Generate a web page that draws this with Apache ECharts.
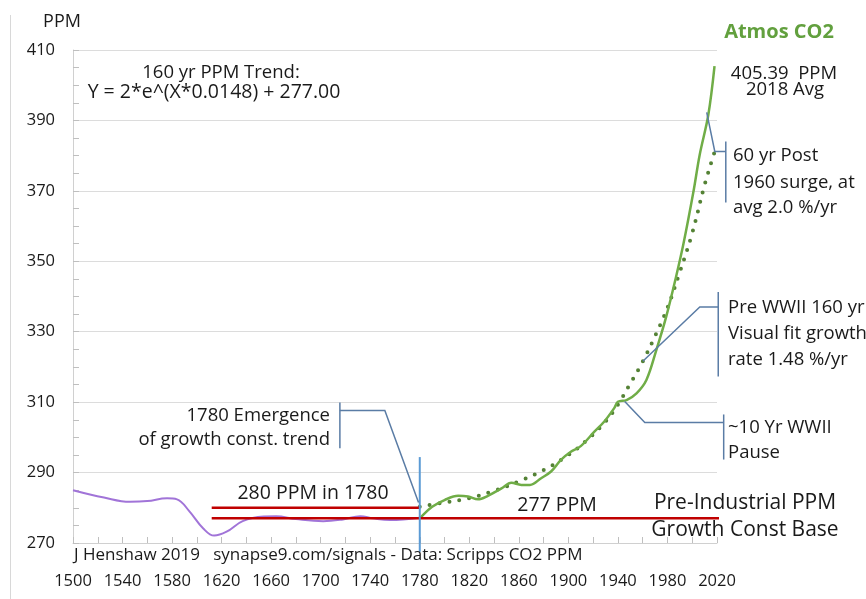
<!DOCTYPE html>
<html>
<head>
<meta charset="utf-8">
<script src="https://cdn.jsdelivr.net/npm/echarts@6/dist/echarts.min.js"></script>
<style>html,body{margin:0;padding:0;background:#fff}#c{width:866px;height:599px}</style>
</head>
<body>
<div id="c"></div>
<script>
// ---- Data (year, ppm) ----
const iceCoreYears = [1500,1525,1546,1560,1576,1584,1594,1605,1614,1624,1637,1654,1664,1680,1702,1718,1732,1742,1756,1780];
const iceCorePPM   = [285.0,282.9,281.7,281.9,282.7,282.4,279.0,274.2,272.1,273.2,276.2,277.5,277.6,276.8,276.2,276.7,277.6,277.0,276.5,277.2];

const atmosYears = [1780,1790,1800,1811,1819,1827,1835,1846,1854,1862,1869,1878,1886,1894,1902,1910,1921,1929,1937,1940,1947,1955,1963,1971,1979,1987,1993,2001,2006,2013,2018];
const atmosPPM   = [277.0,280.3,282.2,283.4,283.2,282.4,283.4,285.5,287.1,286.5,286.5,288.4,290.3,293.6,295.9,297.5,301.6,304.5,308.3,310.1,310.6,312.5,316.3,324.8,334.3,345.7,355.1,369.8,380.2,391.6,405.4];

const trendYears = [1780,1800,1820,1840,1860,1880,1900,1915,1930,1940,1950,1960,1970,1980,1990,2000,2010,2018];
const trendPPM   = [280.3,281.5,282.7,284.8,287.5,290.7,295.0,299.2,304.5,309.3,315.3,321.5,328.8,336.8,347.0,358.0,371.7,381.0];

// reference levels
const level1780 = 280;
const baseLevel = 277;

const xTicks = {min:1500, max:2020, step:40};
const yTicks = {min:270, max:410, step:20};

const zip = (xs, ys) => xs.map((x,i)=>[x, ys[i]]);

// annotation leader lines (data coordinates; null splits segments)
const callouts = {
  emergence: [[1715.5,309.9],[1715.5,296.9],null,[1715.5,307.6],[1751.8,307.6],[1779,281.5]],
  post1960:  [[2011.7,392.3],[2018.2,381.2],[2027.1,381.2],null,[2027.1,384.0],[2027.1,366.7]],
  preWWII:   [[1960.1,321.6],[2006.1,337.0],[2021,337.0],null,[2021,341.3],[2021,317.3]],
  wwii:      [[1945.5,310.2],[1961.7,304.2],[2025.4,304.2],null,[2025.4,306.5],[2025.4,293.7]]
};
const marker1780 = [[1780,294.4],[1780,267.5]];

const FONT = '"Open Sans", "Noto Sans", sans-serif';
const txt = (text, x, y, opts={}) => ({
  type:'text', silent:true, z:100,
  style:{text, x, y, fill:opts.fill||'#1a1a1a', font:`${opts.weight||'normal'} ${opts.size||18.5}px ${FONT}`,
    align:opts.align||'left', verticalAlign:'middle'}
});

const chart = echarts.init(document.getElementById('c'), null, {renderer:'canvas'});

const series = [
  {type:'line', name:'ice', data:zip(iceCoreYears, iceCorePPM), smooth:0.4, symbol:'none',
    lineStyle:{color:'#a174d8', width:2}, z:4},
  {type:'line', name:'trend', data:zip(trendYears, trendPPM), smooth:0.4, symbol:'none',
    lineStyle:{color:'#548235', width:4, type:[0,10], cap:'round'}, z:5},
  {type:'line', name:'atmos', data:zip(atmosYears, atmosPPM), smooth:0.35, symbol:'none',
    lineStyle:{color:'#70ad47', width:2.5}, z:6},
  {type:'line', data:[[1612,level1780],[1780,level1780]], symbol:'none', clip:false,
    lineStyle:{color:'#c00000', width:2.5}, z:7},
  {type:'line', data:[[1612,baseLevel],[2137,baseLevel]], symbol:'none', clip:false,
    lineStyle:{color:'#c00000', width:2.5}, z:7},
];

const texts = [
  txt('PPM', 62, 22, {align:'center', size:18}),
  txt('160 yr PPM Trend:', 221, 73, {align:'center'}),
  txt('Y = 2*e^(X*0.0148) + 277.00', 214, 92, {align:'center', size:19.5}),
  txt('Atmos CO2', 779, 32, {align:'center', size:20, weight:'bold', fill:'#62a03e'}),
  txt('405.39  PPM', 784, 74, {align:'center'}),
  txt('2018 Avg', 785, 90, {align:'center'}),
  txt('60 yr Post', 733, 156),
  txt('1960 surge, at', 733, 183),
  txt('avg 2.0 %/yr', 733, 208),
  txt('Pre WWII 160 yr', 728, 308),
  txt('Visual fit growth', 728, 334),
  txt('rate 1.48 %/yr', 728, 360),
  txt('~10 Yr WWII', 728, 428),
  txt('Pause', 728, 453),
  txt('1780 Emergence', 330, 416, {align:'right'}),
  txt('of growth const. trend', 330, 440, {align:'right'}),
  txt('280 PPM in 1780', 313, 493, {align:'center', size:19.5}),
  txt('277 PPM', 557, 505, {align:'center', size:19.5}),
  txt('Pre-Industrial PPM', 745, 503, {align:'center', size:21}),
  txt('Growth Const Base', 745, 530, {align:'center', size:21}),
  txt('J Henshaw 2019   synapse9.com/signals - Data: Scripps CO2 PPM', 74, 555, {size:17}),
];

chart.setOption({
  animation:false,
  backgroundColor:'#ffffff',
  grid:{left:73, right:149, top:50, bottom:56, containLabel:false},
  xAxis:{type:'value', min:xTicks.min, max:xTicks.max, interval:xTicks.step,
    axisLine:{show:true, lineStyle:{color:'#d0d0d0', width:1}},
    axisTick:{show:true, inside:true, length:6, lineStyle:{color:'#bfbfbf'}},
    minorTick:{show:true, splitNumber:2, length:6, lineStyle:{color:'#bfbfbf'}},
    splitLine:{show:false},
    axisLabel:{margin:30, color:'#1a1a1a', fontSize:16.5, fontFamily:FONT, formatter:v=>String(v)}},
  yAxis:{type:'value', min:yTicks.min, max:yTicks.max, interval:yTicks.step,
    axisLine:{show:true, lineStyle:{color:'#d0d0d0', width:1}},
    axisTick:{show:true, inside:true, length:6, lineStyle:{color:'#bfbfbf'}},
    minorTick:{show:true, splitNumber:4, length:6, lineStyle:{color:'#bfbfbf'}},
    splitLine:{show:true, lineStyle:{color:'#dcdcdc', width:1}},
    axisLabel:{margin:18, color:'#1a1a1a', fontSize:16.5, fontFamily:FONT, formatter:v=>String(v)}},
  series
});

// leader lines converted through the chart's own scales
function toPx(p){ return chart.convertToPixel({gridIndex:0}, p); }
function polylines(pts, color, width){
  const segs=[]; let cur=[];
  pts.forEach(p=>{ if(p===null){segs.push(cur);cur=[];} else cur.push(p); });
  segs.push(cur);
  return segs.map(s=>({type:'polyline', silent:true, z:50,
    shape:{points:s.map(toPx)}, style:{stroke:color, lineWidth:width, fill:null}}));
}
const graphics = [
  {type:'line', silent:true, shape:{x1:10.5,y1:15,x2:10.5,y2:599}, style:{stroke:'#d8d8d8', lineWidth:1}},
  ...polylines(marker1780, '#5b9bd5', 2),
];
Object.values(callouts).forEach(c=>graphics.push(...polylines(c, '#5a7ca5', 1.5)));
chart.setOption({graphic: graphics.concat(texts)});
</script>
</body>
</html>
